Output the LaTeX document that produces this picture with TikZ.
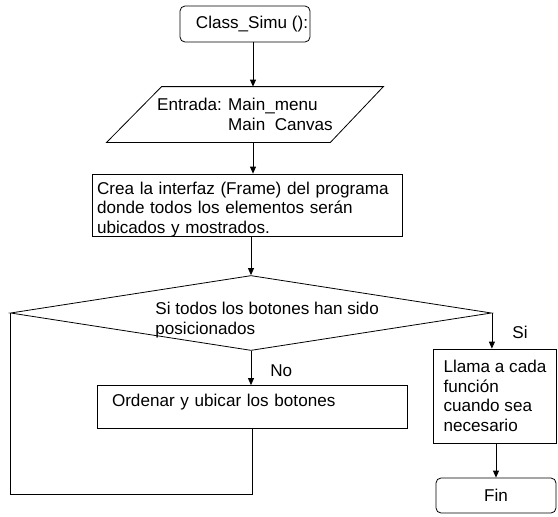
\documentclass[tikz,border=0pt]{standalone}
\usepackage{fontspec}
\setmainfont{Liberation Sans}
\usetikzlibrary{shapes.geometric,arrows.meta,calc}

\begin{document}
\begin{tikzpicture}[x=1pt,y=-1pt,line width=0.8pt,>={Triangle[length=7pt,width=6pt]},
  font=\fontsize{17.1}{19.6}\selectfont,
  term/.style={draw,rectangle,rounded corners=5pt,inner sep=0pt},
  proc/.style={draw,rectangle,align=left,inner ysep=0pt},
  decision/.style={draw,diamond,inner sep=0pt}]
\useasboundingbox (0,0) rectangle (558,517);

% start
\node[term,minimum width=130pt,minimum height=36pt,inner xsep=1.5pt] (class) at (245,24)
  {\hspace*{14pt}Class\_Simu ():};
\node[align=left,inner sep=0pt,minimum width=276pt,minimum height=55pt] (entrada) at (245,114.5)
  {Entrada: Main\_menu\\\phantom{Entrada: }Main\ \ Canvas};
\draw ($(entrada.north west)+(55,0)$) -- (entrada.north east)
  -- ($(entrada.south east)+(-53,0)$) -- (entrada.south west) -- cycle;
\node[proc,text width=300pt,inner xsep=5pt,text height=20pt,text depth=42pt] (crea) at (247,205)
  {Crea la interfaz (Frame) del programa\\donde todos los elementos serán\\ubicados y mostrados.};

% decision
\node[decision,minimum width=481pt,minimum height=75pt] (dec) at (251,313) {};
\node[anchor=west,align=left,inner sep=0pt] (dectxt) at (155,320)
  {Si todos los botones han sido\\posicionados};

\node[proc,text width=280pt,inner xsep=15pt,inner ysep=1pt,text height=20pt,text depth=21pt]
  (ordenar) at (252,407) {Ordenar y ubicar los botones};
\node[proc,minimum width=123pt,minimum height=94pt] (llama) at (495,396)
  {Llama a cada\\función\\cuando sea\\necesario};
\node[term,minimum width=120pt,minimum height=35pt] (fin) at (496,495.5) {Fin};

\node[anchor=west,inner sep=0pt] (no) at (270,371) {No};
\node[anchor=west,inner sep=0pt] (si) at (512,332) {Si};

% arrows
\draw[->] ([xshift=8pt]class.south) -- ([xshift=8pt]class.south |- entrada.north);
\draw[->] ([xshift=8pt]entrada.south) -- ([xshift=8pt]entrada.south |- crea.north);
\draw[->] (crea.south -| dec.north) -- (dec.north);
\draw[->] (dec.south) -- (dec.south |- ordenar.north);
\draw (ordenar.south) -- ++(0,65) -| (dec.west);
\draw[->] (dec.east) -- (dec.east |- llama.north);
\draw[->] (llama.south -| fin.north) -- (fin.north);
\end{tikzpicture}
\end{document}
